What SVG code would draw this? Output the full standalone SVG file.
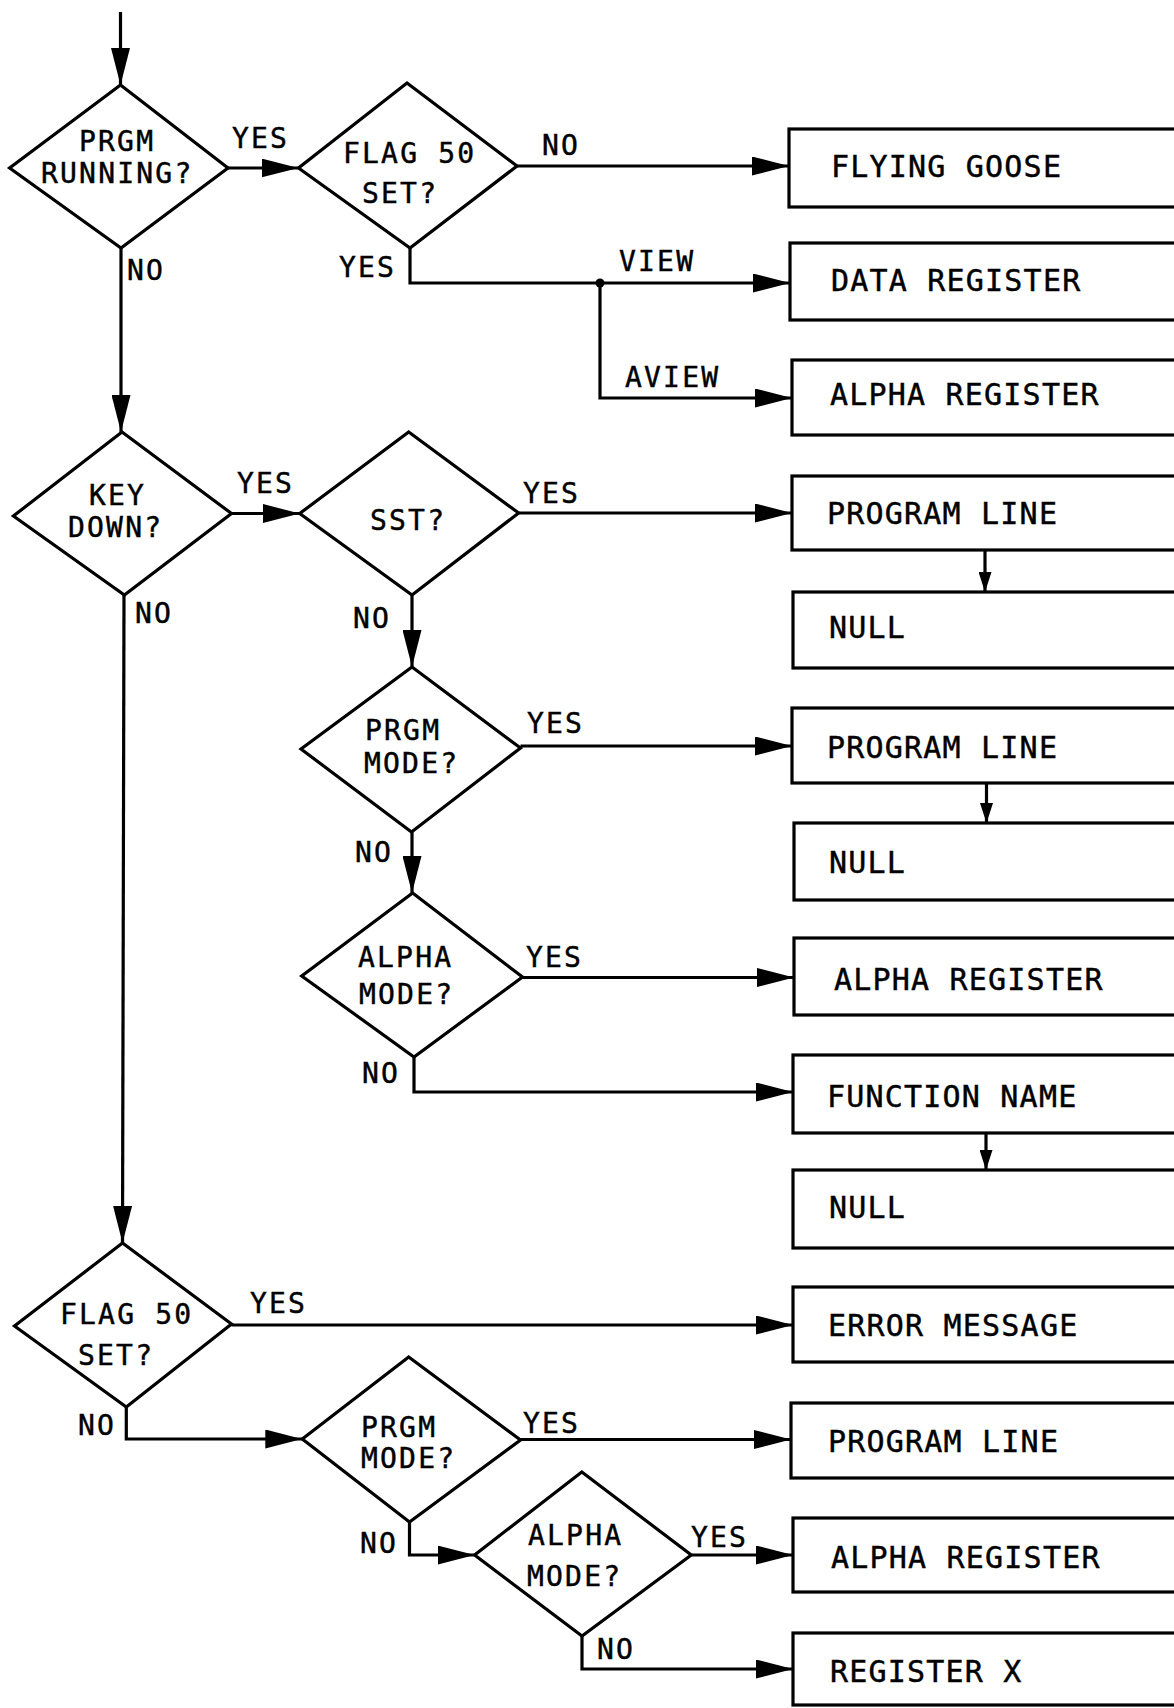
<svg xmlns="http://www.w3.org/2000/svg" width="1174" height="1708" viewBox="0 0 1174 1708">
<style>
.bg{fill:#fff}
.dia{fill:none;stroke:#000;stroke-width:3.2;stroke-linejoin:miter}
.box{fill:none;stroke:#000;stroke-width:3.2}
.ln{fill:none;stroke:#000;stroke-width:3.2}
.t{font-family:"DejaVu Sans Mono","Liberation Mono",monospace;font-size:28px;letter-spacing:2.2px;fill:#000;stroke:#000;stroke-width:0.45}
.bt{font-family:"DejaVu Sans Mono","Liberation Mono",monospace;font-size:30px;letter-spacing:1.2px;fill:#000;stroke:#000;stroke-width:0.45}
</style>
<defs>
<marker id="arr" markerUnits="userSpaceOnUse" markerWidth="37" markerHeight="19" refX="37" refY="9.5" orient="auto" viewBox="0 0 37 19"><path d="M0,0 L37,9.5 L0,19 z" fill="#000"/></marker>
<marker id="arrs" markerUnits="userSpaceOnUse" markerWidth="20" markerHeight="13" refX="20" refY="6.5" orient="auto" viewBox="0 0 20 13"><path d="M0,0 L20,6.5 L0,13 z" fill="#000"/></marker>
</defs>
<rect class="bg" x="0" y="0" width="1174" height="1708"/>

<g id="connectors">
<path class="ln" d="M120.5,12 V85" marker-end="url(#arr)"/>
<path class="ln" d="M228,168 H298.5" marker-end="url(#arr)"/>
<path class="ln" d="M517,166 H789" marker-end="url(#arr)"/>
<path class="ln" d="M410,248 V283 H790" marker-end="url(#arr)"/>
<circle cx="600" cy="283" r="4.5" fill="#000"/>
<path class="ln" d="M600,283 V398 H792" marker-end="url(#arr)"/>
<path class="ln" d="M121,248 V432" marker-end="url(#arr)"/>
<path class="ln" d="M231.5,513.5 H299.7" marker-end="url(#arr)"/>
<path class="ln" d="M518.6,513 H792" marker-end="url(#arr)"/>
<path class="ln" d="M985,550 V592" marker-end="url(#arrs)"/>
<path class="ln" d="M412,595 V667" marker-end="url(#arr)"/>
<path class="ln" d="M520.5,746 H792" marker-end="url(#arr)"/>
<path class="ln" d="M986.5,783 V823" marker-end="url(#arrs)"/>
<path class="ln" d="M412,832 V893" marker-end="url(#arr)"/>
<path class="ln" d="M522.5,977.5 H794" marker-end="url(#arr)"/>
<path class="ln" d="M414,1057 V1092 H793" marker-end="url(#arr)"/>
<path class="ln" d="M986,1133 V1170" marker-end="url(#arrs)"/>
<path class="ln" d="M124,595 L122.5,1243" marker-end="url(#arr)"/>
<path class="ln" d="M231.5,1325 H793" marker-end="url(#arr)"/>
<path class="ln" d="M126.3,1407 V1439 H302.3" marker-end="url(#arr)"/>
<path class="ln" d="M520.5,1439.5 H791" marker-end="url(#arr)"/>
<path class="ln" d="M409.5,1522 V1555 H474.6" marker-end="url(#arr)"/>
<path class="ln" d="M691.3,1555 H793" marker-end="url(#arr)"/>
<path class="ln" d="M582,1636 V1669 H793" marker-end="url(#arr)"/>
<text class="t" x="232" y="148">YES</text>
<text class="t" x="542" y="155">NO</text>
<text class="t" x="339" y="277">YES</text>
<text class="t" x="127" y="280">NO</text>
<text class="t" x="619" y="271">VIEW</text>
<text class="t" x="625" y="387">AVIEW</text>
<text class="t" x="237" y="493">YES</text>
<text class="t" x="523" y="503">YES</text>
<text class="t" x="135" y="623">NO</text>
<text class="t" x="353" y="628">NO</text>
<text class="t" x="527" y="733">YES</text>
<text class="t" x="355" y="862">NO</text>
<text class="t" x="526" y="967">YES</text>
<text class="t" x="362" y="1083">NO</text>
<text class="t" x="250" y="1313">YES</text>
<text class="t" x="78" y="1435">NO</text>
<text class="t" x="523" y="1433">YES</text>
<text class="t" x="360" y="1553">NO</text>
<text class="t" x="691" y="1547">YES</text>
<text class="t" x="597" y="1659">NO</text>
</g>

<g id="d1"><polygon class="dia" points="120.5,85 228,168 121,248 9.6,168"/><text class="t" x="79" y="151">PRGM</text><text class="t" x="41" y="183">RUNNING?</text></g>
<g id="d2"><polygon class="dia" points="407,83 517,166 410,248 298.5,168"/><text class="t" x="343" y="163">FLAG 50</text><text class="t" x="362" y="203">SET?</text></g>
<g id="d3"><polygon class="dia" points="122,432 231.5,513.5 124.4,595 13.4,516"/><text class="t" x="89" y="505">KEY</text><text class="t" x="68" y="537">DOWN?</text></g>
<g id="d4"><polygon class="dia" points="408.7,432 518.6,513 412,595 299.7,513.5"/><text class="t" x="370" y="530">SST?</text></g>
<g id="d5"><polygon class="dia" points="412,667 520.5,748 411.5,832 301,749"/><text class="t" x="365" y="740">PRGM</text><text class="t" x="364" y="773">MODE?</text></g>
<g id="d6"><polygon class="dia" points="412.6,893 522.5,977 414,1057 301.7,976"/><text class="t" x="358" y="967">ALPHA</text><text class="t" x="359" y="1004">MODE?</text></g>
<g id="d7"><polygon class="dia" points="122.5,1243 231.5,1324 126.3,1407 14.5,1326"/><text class="t" x="60" y="1324">FLAG 50</text><text class="t" x="78" y="1365">SET?</text></g>
<g id="d8"><polygon class="dia" points="408.7,1357 520.5,1440 409.5,1522 302.3,1439"/><text class="t" x="361" y="1437">PRGM</text><text class="t" x="361" y="1468">MODE?</text></g>
<g id="d9"><polygon class="dia" points="581.8,1472 691.3,1555 582,1636 474.6,1555"/><text class="t" x="528" y="1545">ALPHA</text><text class="t" x="527" y="1586">MODE?</text></g>

<g id="b1"><rect class="box" x="789" y="129" width="400" height="78"/><text class="bt" x="831" y="177">FLYING GOOSE</text></g>
<g id="b2"><rect class="box" x="790" y="243" width="400" height="77"/><text class="bt" x="831" y="291">DATA REGISTER</text></g>
<g id="b3"><rect class="box" x="792" y="360" width="400" height="75"/><text class="bt" x="830" y="405">ALPHA REGISTER</text></g>
<g id="b4"><rect class="box" x="792" y="476" width="400" height="74"/><text class="bt" x="827" y="524">PROGRAM LINE</text></g>
<g id="b5"><rect class="box" x="793" y="592" width="400" height="76"/><text class="bt" x="829" y="638">NULL</text></g>
<g id="b6"><rect class="box" x="792" y="708" width="400" height="75"/><text class="bt" x="827" y="758">PROGRAM LINE</text></g>
<g id="b7"><rect class="box" x="794" y="823" width="400" height="77"/><text class="bt" x="829" y="873">NULL</text></g>
<g id="b8"><rect class="box" x="794" y="938" width="400" height="77"/><text class="bt" x="834" y="990">ALPHA REGISTER</text></g>
<g id="b9"><rect class="box" x="793" y="1055" width="400" height="78"/><text class="bt" x="827" y="1107">FUNCTION NAME</text></g>
<g id="b10"><rect class="box" x="793" y="1170" width="400" height="78"/><text class="bt" x="829" y="1218">NULL</text></g>
<g id="b11"><rect class="box" x="793" y="1287" width="400" height="75"/><text class="bt" x="828" y="1336">ERROR MESSAGE</text></g>
<g id="b12"><rect class="box" x="791" y="1403" width="400" height="75"/><text class="bt" x="828" y="1452">PROGRAM LINE</text></g>
<g id="b13"><rect class="box" x="793" y="1518" width="400" height="74"/><text class="bt" x="831" y="1568">ALPHA REGISTER</text></g>
<g id="b14"><rect class="box" x="793" y="1633" width="400" height="72"/><text class="bt" x="830" y="1682">REGISTER X</text></g>
</svg>
